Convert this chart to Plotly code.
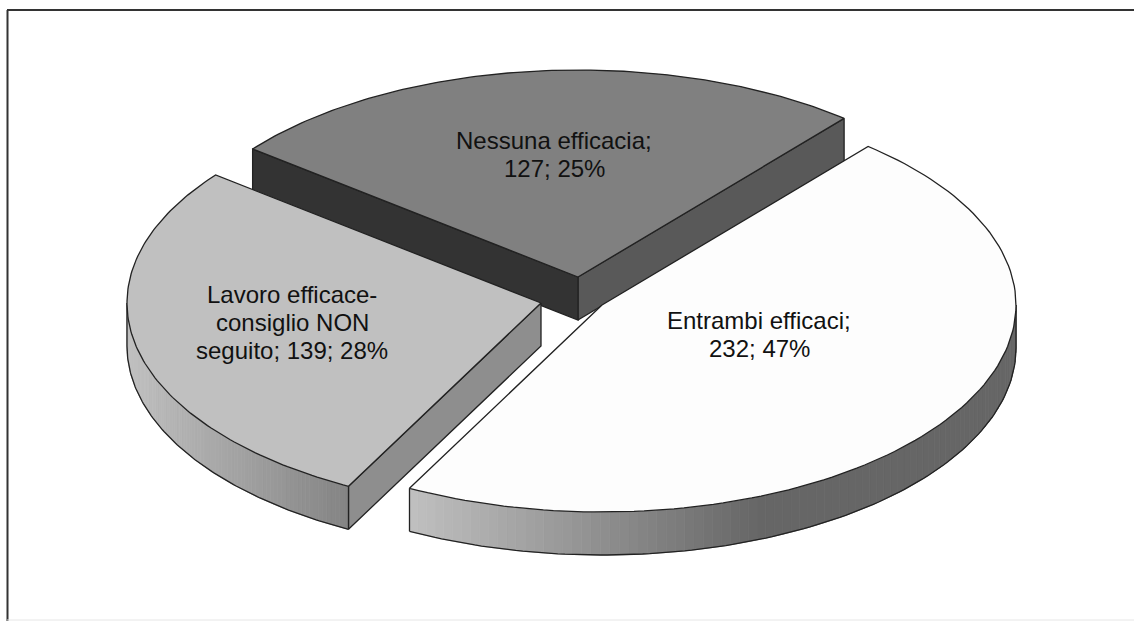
import math
import plotly.graph_objects as go

categories = ["Entrambi efficaci", "Lavoro efficace-consiglio NON seguito", "Nessuna efficacia"]
values = [232, 139, 127]
percents = [47, 28, 25]
label_lines = [
    ["Entrambi efficaci;", "232; 47%"],
    ["Lavoro efficace-", "consiglio NON", "seguito; 139; 28%"],
    ["Nessuna efficacia;", "127; 25%"],
]

WIDTH, HEIGHT = 1134, 621
RX, RY, DEPTH = 414, 207, 43
START = 40.0
APEX = [(602, 305), (541, 303), (578, 277)]
LABEL_POS = [(759, 334), (292, 322.5), (554, 154)]
LINE_GAP = 28
FONT_SIZE = 24
TOPS = ["#fdfdfd", "#c0c0c0", "#808080"]
EDGE = "#222222"

total = sum(values)
spans = [v / total * 360 for v in values]
angles = []
a = START
for s in spans:
    angles.append((a, a + s))
    a += s


def rim(apex, deg, dz=0):
    t = math.radians(deg)
    return apex[0] + RX * math.sin(t), apex[1] - RY * math.cos(t) + dz


def arc(apex, a0, a1, dz=0, n=120):
    pts = [rim(apex, a0 + (a1 - a0) * i / n, dz) for i in range(n + 1)]
    return [p[0] for p in pts], [p[1] for p in pts]


def mix(c0, c1, f):
    f = max(0, min(1, f))
    v = round(c0 + (c1 - c0) * f)
    return f"rgb({v},{v},{v})"


fig = go.Figure()


def poly(xs, ys, fill, line=None, width=1.0):
    fig.add_trace(go.Scatter(
        x=list(xs) + [xs[0]], y=list(ys) + [ys[0]], mode="lines", fill="toself",
        fillcolor=fill, line=dict(color=line or fill, width=width),
        hoverinfo="skip", showlegend=False))


def stroke(xs, ys, color=EDGE, width=1.3):
    fig.add_trace(go.Scatter(x=xs, y=ys, mode="lines", line=dict(color=color, width=width),
                             hoverinfo="skip", showlegend=False))


def radial_wall(apex, deg, fill):
    rx_, ry_ = rim(apex, deg)
    xs = [apex[0], rx_, rx_, apex[0]]
    ys = [apex[1], ry_, ry_ + DEPTH, apex[1] + DEPTH]
    poly(xs, ys, fill, EDGE, 1.3)


def outer_wall(apex, a0, a1, shade):
    n = 90
    for i in range(n):
        b0 = a0 + (a1 - a0) * i / n
        b1 = a0 + (a1 - a0) * (i + 1) / n
        p0, p1 = rim(apex, b0), rim(apex, b1)
        xs = [p0[0], p1[0], p1[0], p0[0]]
        ys = [p0[1], p1[1], p1[1] + DEPTH, p0[1] + DEPTH]
        poly(xs, ys, shade((p0[0] + p1[0]) / 2), None, 0.8)
    x0, y0 = arc(apex, a0, a1, DEPTH)
    stroke(x0, y0)
    for d in (a0, a1):
        p = rim(apex, d)
        stroke([p[0], p[0]], [p[1], p[1] + DEPTH])


def top(apex, a0, a1, fill):
    x, y = arc(apex, a0, a1)
    poly([apex[0]] + x, [apex[1]] + y, fill, EDGE, 1.3)


# Nessuna efficacia (back slice)
a0, a1 = angles[2]
radial_wall(APEX[2], a1, "#595959")
radial_wall(APEX[2], a0, "#333333")
top(APEX[2], a0, a1, TOPS[2])

# Entrambi efficaci
a0, a1 = angles[0]
outer_wall(APEX[0], 90, a1, lambda x: mix(0x66, 0xc0, (760 - x) / 350))
top(APEX[0], a0, a1, TOPS[0])

# Lavoro efficace-consiglio NON seguito
a0, a1 = angles[1]
radial_wall(APEX[1], a0, "#8e8e8e")
outer_wall(APEX[1], a0, 270, lambda x: mix(0xc0, 0x84, (x - 128) / 220))
top(APEX[1], a0, a1, TOPS[1])

for (x, y), lines in zip(LABEL_POS, label_lines):
    first = y - LINE_GAP * (len(lines) - 1) / 2
    for i, txt in enumerate(lines):
        fig.add_annotation(x=x, y=first + i * LINE_GAP, text=txt, showarrow=False, align="center",
                           font=dict(family="Liberation Sans", size=FONT_SIZE, color="#111111"))

fig.add_shape(type="line", x0=7.5, x1=7.5, y0=10, y1=621, line=dict(color="#333333", width=2))
fig.add_shape(type="line", x0=7, x1=1134, y0=10, y1=10, line=dict(color="#333333", width=2))
fig.add_shape(type="line", x0=7, x1=1134, y0=620, y1=620, line=dict(color="#e6e6e6", width=1))

fig.update_layout(
    width=WIDTH, height=HEIGHT, margin=dict(l=0, r=0, t=0, b=0),
    paper_bgcolor="white", plot_bgcolor="white", showlegend=False,
    xaxis=dict(range=[0, WIDTH], visible=False, fixedrange=True),
    yaxis=dict(range=[HEIGHT, 0], visible=False, fixedrange=True),
)
fig.write_html("out.html", config={"displayModeBar": False},
               post_script="document.body.style.margin='0';document.body.style.overflow='hidden';")
